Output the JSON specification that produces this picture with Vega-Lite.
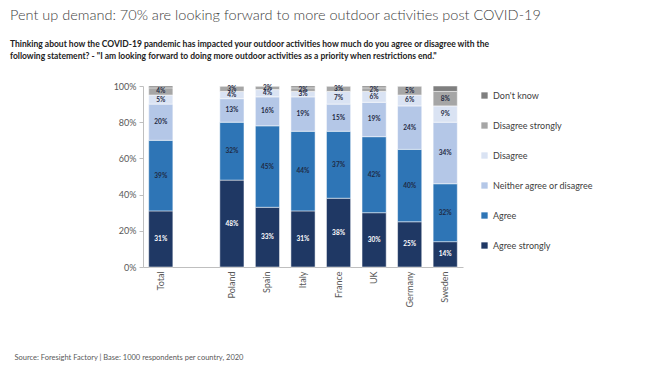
{
  "$schema": "https://vega.github.io/schema/vega-lite/v6.json",
  "autosize": {"type": "none"},
  "width": 320,
  "height": 181,
  "padding": {"left": 143, "top": 86, "right": 203, "bottom": 106},
  "background": "white",
  "config": {"view": {"stroke": null}, "font": "Lato, sans-serif"},
  "title": {
    "text": "Pent up demand: 70% are looking forward to more outdoor activities post COVID-19",
    "subtitle": ["Thinking about how the COVID-19 pandemic has impacted your outdoor activities how much do you agree or disagree with the", "following statement? - \"I am looking forward to doing more outdoor activities as a priority when restrictions end.\""],
    "anchor": "start",
    "frame": "group",
    "dx": -133,
    "offset": 21,
    "fontSize": 14.5,
    "fontWeight": 300,
    "color": "#404040",
    "subtitleFontSize": 8.5,
    "subtitleFontWeight": "bold",
    "subtitleColor": "#222222",
    "subtitlePadding": 16,
    "subtitleLineHeight": 12
  },
  "data": {"values": [
    {"country": "Total", "cat": "Agree strongly", "r": 1, "v": 0.31},
    {"country": "Total", "cat": "Agree", "r": 2, "v": 0.39},
    {"country": "Total", "cat": "Neither agree or disagree", "r": 3, "v": 0.20},
    {"country": "Total", "cat": "Disagree", "r": 4, "v": 0.05},
    {"country": "Total", "cat": "Disagree strongly", "r": 5, "v": 0.04},
    {"country": "Total", "cat": "Don't know", "r": 6, "v": 0.01},
    {"country": "Poland", "cat": "Agree strongly", "r": 1, "v": 0.48},
    {"country": "Poland", "cat": "Agree", "r": 2, "v": 0.32},
    {"country": "Poland", "cat": "Neither agree or disagree", "r": 3, "v": 0.13},
    {"country": "Poland", "cat": "Disagree", "r": 4, "v": 0.04},
    {"country": "Poland", "cat": "Disagree strongly", "r": 5, "v": 0.03},
    {"country": "Poland", "cat": "Don't know", "r": 6, "v": 0.0},
    {"country": "Spain", "cat": "Agree strongly", "r": 1, "v": 0.33},
    {"country": "Spain", "cat": "Agree", "r": 2, "v": 0.45},
    {"country": "Spain", "cat": "Neither agree or disagree", "r": 3, "v": 0.16},
    {"country": "Spain", "cat": "Disagree", "r": 4, "v": 0.04},
    {"country": "Spain", "cat": "Disagree strongly", "r": 5, "v": 0.02},
    {"country": "Spain", "cat": "Don't know", "r": 6, "v": 0.0},
    {"country": "Italy", "cat": "Agree strongly", "r": 1, "v": 0.31},
    {"country": "Italy", "cat": "Agree", "r": 2, "v": 0.44},
    {"country": "Italy", "cat": "Neither agree or disagree", "r": 3, "v": 0.19},
    {"country": "Italy", "cat": "Disagree", "r": 4, "v": 0.03},
    {"country": "Italy", "cat": "Disagree strongly", "r": 5, "v": 0.02},
    {"country": "Italy", "cat": "Don't know", "r": 6, "v": 0.01},
    {"country": "France", "cat": "Agree strongly", "r": 1, "v": 0.38},
    {"country": "France", "cat": "Agree", "r": 2, "v": 0.37},
    {"country": "France", "cat": "Neither agree or disagree", "r": 3, "v": 0.15},
    {"country": "France", "cat": "Disagree", "r": 4, "v": 0.07},
    {"country": "France", "cat": "Disagree strongly", "r": 5, "v": 0.03},
    {"country": "France", "cat": "Don't know", "r": 6, "v": 0.0},
    {"country": "UK", "cat": "Agree strongly", "r": 1, "v": 0.30},
    {"country": "UK", "cat": "Agree", "r": 2, "v": 0.42},
    {"country": "UK", "cat": "Neither agree or disagree", "r": 3, "v": 0.19},
    {"country": "UK", "cat": "Disagree", "r": 4, "v": 0.06},
    {"country": "UK", "cat": "Disagree strongly", "r": 5, "v": 0.02},
    {"country": "UK", "cat": "Don't know", "r": 6, "v": 0.01},
    {"country": "Germany", "cat": "Agree strongly", "r": 1, "v": 0.25},
    {"country": "Germany", "cat": "Agree", "r": 2, "v": 0.40},
    {"country": "Germany", "cat": "Neither agree or disagree", "r": 3, "v": 0.24},
    {"country": "Germany", "cat": "Disagree", "r": 4, "v": 0.06},
    {"country": "Germany", "cat": "Disagree strongly", "r": 5, "v": 0.05},
    {"country": "Germany", "cat": "Don't know", "r": 6, "v": 0.0},
    {"country": "Sweden", "cat": "Agree strongly", "r": 1, "v": 0.14},
    {"country": "Sweden", "cat": "Agree", "r": 2, "v": 0.32},
    {"country": "Sweden", "cat": "Neither agree or disagree", "r": 3, "v": 0.34},
    {"country": "Sweden", "cat": "Disagree", "r": 4, "v": 0.09},
    {"country": "Sweden", "cat": "Disagree strongly", "r": 5, "v": 0.08},
    {"country": "Sweden", "cat": "Don't know", "r": 6, "v": 0.03}
  ]},
  "encoding": {
    "x": {
      "field": "country",
      "type": "nominal",
      "scale": {"domain": ["Total", " ", "Poland", "Spain", "Italy", "France", "UK", "Germany", "Sweden"], "paddingInner": 0.32, "paddingOuter": 0.16},
      "axis": {
        "title": "Source: Foresight Factory | Base:  1000 respondents per country, 2020",
        "titleAnchor": "start",
        "titleX": -129,
        "titleY": 90,
        "titleBaseline": "middle",
        "titleFontSize": 7.5,
        "titleFontWeight": "normal",
        "titleColor": "#595959",
        "labelAngle": -90,
        "labelFontSize": 9,
        "labelColor": "#595959",
        "labelPadding": 4,
        "ticks": false,
        "domainColor": "#bfbfbf"
      }
    },
    "y": {
      "field": "v",
      "type": "quantitative",
      "stack": "zero",
      "scale": {"domain": [0, 1]},
      "axis": {
        "title": null,
        "format": ".0%",
        "values": [0, 0.2, 0.4, 0.6, 0.8, 1],
        "grid": false,
        "labelFontSize": 9,
        "labelColor": "#595959",
        "domainColor": "#bfbfbf",
        "tickColor": "#bfbfbf",
        "tickSize": 4,
        "labelPadding": 3
      }
    },
    "order": {"field": "r", "type": "quantitative"}
  },
  "layer": [
    {
      "mark": {"type": "bar", "stroke": "white", "strokeWidth": 0.5},
      "encoding": {
        "color": {
          "field": "cat",
          "type": "nominal",
          "scale": {
            "domain": ["Don't know", "Disagree strongly", "Disagree", "Neither agree or disagree", "Agree", "Agree strongly"],
            "range": ["#7f7f7f", "#a6a6a6", "#dae3f3", "#b4c7e7", "#2e75b6", "#1f3864"]
          },
          "legend": {
            "title": null,
            "orient": "none",
            "legendX": 337,
            "legendY": 5,
            "symbolType": "square",
            "symbolSize": 40,
            "symbolStrokeWidth": 0,
            "labelFontSize": 9,
            "labelColor": "#404040",
            "rowPadding": 20,
            "labelOffset": 4
          }
        }
      }
    },
    {
      "transform": [{"filter": "datum.cat !== \"Don't know\""}],
      "mark": {"type": "text", "fontSize": 6.5, "fontWeight": "bold"},
      "encoding": {
        "y": {"field": "v", "type": "quantitative", "stack": "zero", "bandPosition": 0.5},
        "text": {"field": "v", "type": "quantitative", "format": ".0%"},
        "color": {
          "condition": {"test": "datum.cat === 'Agree strongly'", "value": "white"},
          "value": "#1f2a44"
        }
      }
    }
  ]
}
